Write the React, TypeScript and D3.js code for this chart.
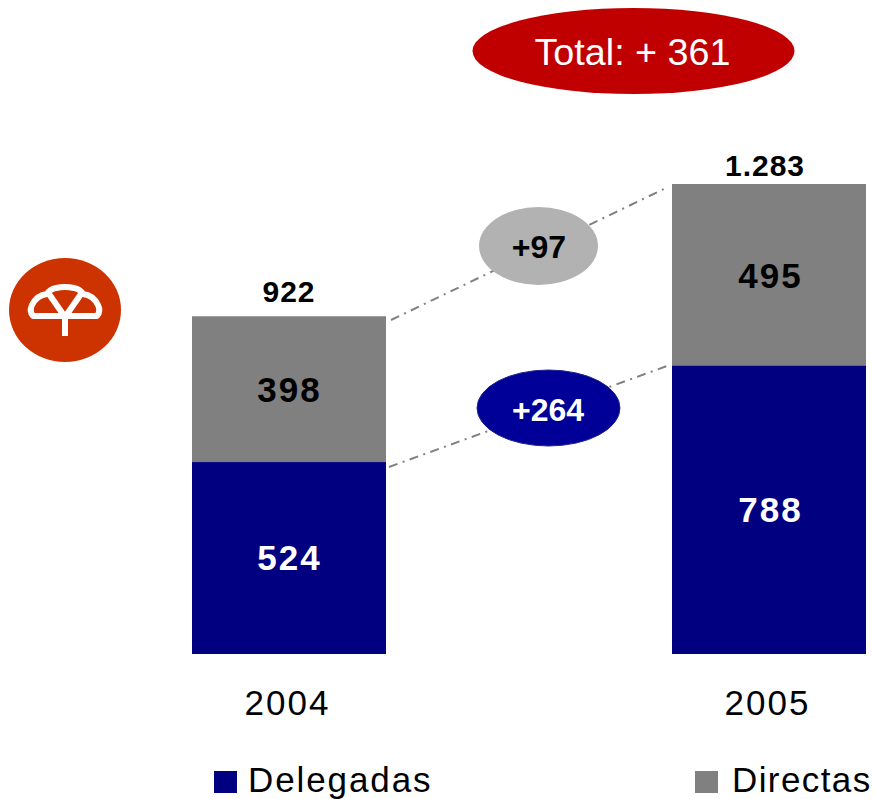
import React from "react";
import * as d3 from "d3";

const years = ["2004", "2005"];
const delegadas = [524, 788];
const directas = [398, 495];
const totals = ["922", "1.283"];
const totalOffsets = [14, 8];
const deltas = ["+264", "+97"];
const totalLabel = "Total: + 361";
const legendLabels = ["Delegadas", "Directas"];

const NAVY = "#000080";
const GREY = "#808080";
const FONT = "'Liberation Sans', Arial, sans-serif";

export default function App() {
  const x = d3.scaleBand<string>().domain(years).range([192, 866]).paddingInner(1 - 194 / 480).paddingOuter(0);
  const bw = x.bandwidth();
  const bx = (y: string) => x(y) as number;
  const yS = d3.scaleLinear().domain([0, 1283]).range([654, 184]);
  const line = d3.line<[number, number]>();
  const dash = "9 5.5 2 5.5";

  return (
    <svg width={874} height={799} style={{ position: "absolute", left: 0, top: 0 }} fontFamily={FONT}>
      <rect width={874} height={799} fill="#fff" />
      <path d={line([[391, 320], [666, 188]]) ?? ""} stroke={GREY} strokeWidth={2} strokeDasharray={dash} fill="none" />
      <path d={line([[389, 467], [667, 366]]) ?? ""} stroke={GREY} strokeWidth={2} strokeDasharray={dash} fill="none" />

      {years.map((yr, i) => {
        const cx = bx(yr) + bw / 2;
        const yMid = yS(delegadas[i]);
        const yTop = yS(delegadas[i] + directas[i]);
        return (
          <g key={yr}>
            <rect x={bx(yr)} y={yMid} width={bw} height={654 - yMid} fill={NAVY} />
            <rect x={bx(yr)} y={yTop} width={bw} height={yMid - yTop} fill={GREY} />
            <text x={cx + (i ? 1.5 : 0.5)} y={(yMid + 654) / 2 + 12} textAnchor="middle" fontSize={35} fontWeight="bold" letterSpacing={2} fill="#fff">{delegadas[i]}</text>
            <text x={cx + (i ? 1.5 : 0.5)} y={(yMid + yTop) / 2 + 13} textAnchor="middle" fontSize={35} fontWeight="bold" letterSpacing={2} fill="#000">{directas[i]}</text>
            <text x={cx + (i ? -4 : 0)} y={yTop - totalOffsets[i]} textAnchor="middle" fontSize={30} fontWeight="bold" letterSpacing={1} fill="#000">{totals[i]}</text>
            <text x={cx - 1.5} y={715} textAnchor="middle" fontSize={35} letterSpacing={2} fill="#000">{yr}</text>
          </g>
        );
      })}

      <ellipse cx={538.5} cy={246} rx={59.5} ry={39} fill="#b2b2b2" />
      <text x={539} y={258} textAnchor="middle" fontSize={32} fontWeight="bold" fill="#000">{deltas[1]}</text>
      <ellipse cx={548.5} cy={408} rx={71.5} ry={38} fill="#000099" stroke="#1f1f8f" strokeWidth={1} />
      <text x={548} y={421} textAnchor="middle" fontSize={32} fontWeight="bold" fill="#fff">{deltas[0]}</text>

      <ellipse cx={633.5} cy={51} rx={161} ry={43} fill="#c00000" />
      <text x={632.5} y={65} textAnchor="middle" fontSize={37.7} fill="#fff">{totalLabel}</text>

      <ellipse cx={65} cy={310} rx={56} ry={52} fill="#cc3300" />
      <g fill="none" stroke="#fff" strokeWidth={6} strokeLinejoin="round">
        <path d="M65 315 V336" />
        <path d="M49 294 L65 317 L81 294" />
        <path d="M33 316 Q29 311 32 305 Q37 295 47 294 Q50 289 56 288 Q65 286 74 288 Q80 289 83 294 Q93 295 98 305 Q101 311 97 316 Z" />
      </g>

      <rect x={214} y={771} width={23} height={22} fill={NAVY} />
      <text x={248} y={792} fontSize={35} letterSpacing={1.9} fill="#000">{legendLabels[0]}</text>
      <rect x={695} y={771} width={23} height={22} fill={GREY} />
      <text x={732} y={792} fontSize={35} letterSpacing={1.4} fill="#000">{legendLabels[1]}</text>
    </svg>
  );
}
